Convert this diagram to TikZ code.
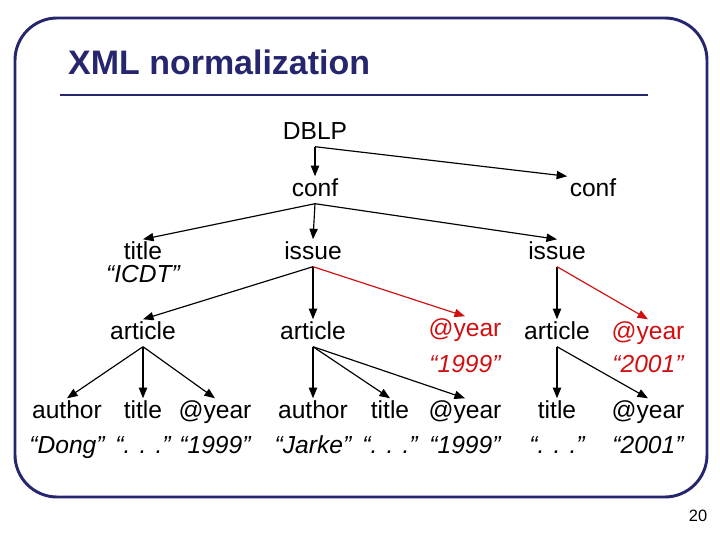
\documentclass[tikz,border=0pt]{standalone}
\usepackage{fontspec}
\setmainfont{Liberation Sans}
\usetikzlibrary{arrows.meta}
\definecolor{navy}{HTML}{26266E}
\definecolor{redyear}{HTML}{D01010}
\tikzset{
  el/.style={font=\fontsize{21}{23}\selectfont, inner sep=2pt, text height=15pt, text depth=4pt},
  val/.style={el, font=\fontsize{21}{23}\selectfont\itshape},
  red/.style={text=redyear},
  arr/.style={-{Triangle[length=9pt,width=7pt]}, line width=1pt},
  redarr/.style={arr, draw=redyear}
}
\begin{document}
\begin{tikzpicture}[x=0.03cm,y=-0.03cm]
    \useasboundingbox (0,0) rectangle (720,540);
    \draw[navy, line width=2.5pt, rounded corners=36pt] (15,18) rectangle (707,497);
    \node[font=\fontsize{29}{32}\selectfont\bfseries, text=navy, anchor=west] (T) at (64,62) {XML normalization};
    \draw[navy, line width=2.5pt] (60,95) -- (648,95);
    \node[font=\fontsize{14}{16}\selectfont\rmfamily] (P) at (698,516) {20};
    % tree
    \node[el] (DBLP) at (315,133) {DBLP};
    \node[el] (C1) at (315,190) {conf};
    \node[el] (C2) at (593,190) {conf};
    \node[el] (TA) at (143,253) {title};
    \node[val] (TAv) at (143,276) {“ICDT”};
    \node[el] (I1) at (313,253) {issue};
    \node[el] (I2) at (557,253) {issue};
    \node[el] (A1) at (143,333) {article};
    \node[el] (A2) at (313,333) {article};
    \node[el,red] (Y1) at (465,330) {@year};
    \node[val,red] (Y1v) at (465,366) {“1999”};
    \node[el] (A3) at (557,333) {article};
    \node[el,red] (Y2) at (648,333) {@year};
    \node[val,red] (Y2v) at (648,366) {“2001”};
    \node[el] (B1) at (67,412) {author};
    \node[el] (B2) at (143,412) {title};
    \node[el] (B3) at (215,412) {@year};
    \node[el] (B4) at (313,412) {author};
    \node[el] (B5) at (390,412) {title};
    \node[el] (B6) at (465,412) {@year};
    \node[el] (B7) at (557,412) {title};
    \node[el] (B8) at (648,412) {@year};
    \node[val] (V1) at (67,447) {“Dong”};
    \node[val] (V2) at (143,447) {“. . .”};
    \node[val] (V3) at (215,447) {“1999”};
    \node[val] (V4) at (313,447) {“Jarke”};
    \node[val] (V5) at (390,447) {“. . .”};
    \node[val] (V6) at (465,447) {“1999”};
    \node[val] (V7) at (557,447) {“. . .”};
    \node[val] (V8) at (648,447) {“2001”};
    \draw[arr] (DBLP.south) -- (C1.north);
    \draw[arr] (DBLP.south) -- (C2.north west);
    \draw[arr] (C1.south) -- (TA.north);
    \draw[arr] (C1.south) -- (I1.north);
    \draw[arr] (C1.south) -- (I2.north);
    \draw[arr] (I1.south) -- (A1.north);
    \draw[arr] (I1.south) -- (A2.north);
    \draw[redarr] (I1.south) -- (Y1.north);
    \draw[arr] (I2.south) -- (A3.north);
    \draw[redarr] (I2.south) -- (Y2.north);
    \draw[arr] (A1.south) -- (B1.north);
    \draw[arr] (A1.south) -- (B2.north);
    \draw[arr] (A1.south) -- (B3.north);
    \draw[arr] (A2.south) -- (B4.north);
    \draw[arr] (A2.south) -- (B5.north);
    \draw[arr] (A2.south) -- (B6.north);
    \draw[arr] (A3.south) -- (B7.north);
    \draw[arr] (A3.south) -- (B8.north);
\end{tikzpicture}
\end{document}
